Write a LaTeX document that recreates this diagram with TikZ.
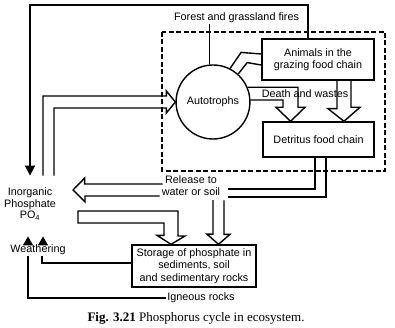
\documentclass[tikz,border=0pt]{standalone}
\usepackage{fontspec}
\setmainfont{Liberation Serif}
\setsansfont{Liberation Sans}
\usepackage{tikz}
\usetikzlibrary{arrows.meta,calc,shapes.geometric}
\newcommand{\diagfont}{\sffamily\fontsize{10.8}{12}\selectfont}
\tikzset{
  wire/.style={line width=1.4pt, line join=miter},
  outer/.style={line width=1.8pt},
  box/.style={
    draw,
    line width=1.4pt,
    align=center,
    inner sep=2pt,
    font=\diagfont
  },
  txt/.style={align=center, inner sep=1pt, font=\diagfont},
  solidtip/.style={line width=1.4pt, -{Triangle[length=9pt,width=10pt]}},
  dashframe/.style={line width=1.2pt, dash pattern=on 5pt off 2.5pt}
}

\begin{document}
\begin{tikzpicture}[x=1pt, y=-1pt]
  \useasboundingbox (0,0) rectangle (395,328);

  % boxes
  \node[ellipse, draw, line width=1.4pt, minimum width=64pt, minimum height=74pt,
        inner sep=0pt, font=\diagfont] (auto) at (213,102) {Autotrophs};
  \node[box, minimum width=112pt, minimum height=41pt] (animals) at (318,59.5) {Animals in the\\grazing food chain};
  \node[box, minimum width=111pt, minimum height=35pt] (detritus) at (318.5,139.5) {Detritus food chain};
  \node[box, minimum width=124pt, minimum height=42pt,
        font=\sffamily\fontsize{10.8}{12.5}\selectfont] (storage) at (194,266)
        {Storage of phosphate in\\sediments, soil\\and sedimentary rocks};

  % labels
  \node[txt] (fire) at (236.5,18) {Forest and grassland fires};
  \node[txt] (death) at (305,94) {Death and wastes};
  \node[txt] (release) at (191,186) {Release to\\water or soil};
  \node[txt, font=\sffamily\fontsize{10.8}{11.5}\selectfont] (inorg) at (30,204) {Inorganic\\Phosphate\\PO\textsubscript{4}};
  \node[txt] (weather) at (38,250) {Weathering};
  \node[txt] (igneous) at (201,298) {Igneous rocks};
  \node[inner sep=0pt, font=\rmfamily\fontsize{13}{15}\selectfont] (caption) at (196,318)
        {\textbf{Fig. 3.21} Phosphorus cycle in ecosystem.};

  % ecosystem frame
  \draw[dashframe] (162,32) rectangle (385,171);

  \coordinate (corner) at (30,5);
  \coordinate (inorgtop) at ($(inorg.north)+(0,-11)$);
  \coordinate (deathtip) at ([xshift=-28pt]detritus.north);
  \coordinate (grazetip) at ([xshift=25.5pt]detritus.north);
  \coordinate (releasetip) at ($(inorg.east)+(16,-14)$);
  \coordinate (soiltip) at ([xshift=24.5pt]storage.north);
  \coordinate (storetip) at ([xshift=-23pt]storage.north);

  % fires back to inorganic phosphate
  \draw[wire] (auto.95) -- (fire.south -| auto.95);
  \draw[outer, -{Triangle[length=10pt,width=10pt]}] ([xshift=-10pt]animals.north) |- (corner) -- (inorgtop);

  % uptake by autotrophs
  \draw[wire] (inorgtop) ++(13,0) |- ($(auto.west)+(-9,-6)$) -- ++(0,-5) -- (auto.west)
    -- ++(-9,11) -- ++(0,-5) -| ($(inorgtop)+(24,0)$);

  % grazing
  \draw[wire] (auto.63) -- ++(11,-16) -- ([yshift=5.5pt]animals.west);
  \draw[wire] (auto.48) -- ++(9,-11.4) -- ([yshift=-5.5pt]animals.west);

  % death and wastes
  \draw[wire] (auto.23) -| ($(deathtip)+(7.5,-14)$) -- ++(7,0) -- (deathtip)
    -- ++(-14.5,-14) -- ++(7,0) |- (auto.3);
  \draw[wire] ([xshift=19pt]animals.south) -- ++(0,28) -- ++(-9,0) -- (grazetip)
    -- ++(16,-14) -- ++(-9,0) -- ([xshift=33pt]animals.south);

  % release to water or soil
  \draw[wire] ([xshift=-3.5pt]detritus.south) |- ($(release.east)+(7,3)$);
  \draw[wire] ([xshift=7.5pt]detritus.south) |- ($(release.east)+(7,11)$);
  \draw[wire] ($(release.west)+(2,-2)$) -- ++(-78,0) -- ++(0,-6) -- (releasetip)
    -- ++(12,12) -- ++(0,-6) -- ($(release.west)+(-1,10)$);
  \draw[wire] ($(release.south)+(22,3)$) -- ++(0,34) -- ++(-6,0) -- (soiltip)
    -- ++(11.5,-10) -- ++(-6,0) -- ++(0,-34);

  % inorganic phosphate to storage
  \draw[wire] ($(inorg.east)+(21,7)$) -- ++(100,0) -- ++(0,25) -- ++(7,0) -- (storetip)
    -- ++(-14,-9) -- ++(7,0) |- ($(inorg.east)+(21,19)$) -- cycle;

  % weathering
  \draw[wire] ([yshift=3pt]storage.west) -| ([xshift=4pt]weather.south);
  \draw[wire] (igneous.west) -| ([xshift=-10pt]weather.south);
  \draw[solidtip] ([xshift=-10pt]weather.north) -- ([xshift=-2pt,yshift=-15pt]inorg.south);
  \draw[solidtip] ([xshift=5pt]weather.north) -- ([xshift=13pt,yshift=-15pt]inorg.south);
\end{tikzpicture}
\end{document}
